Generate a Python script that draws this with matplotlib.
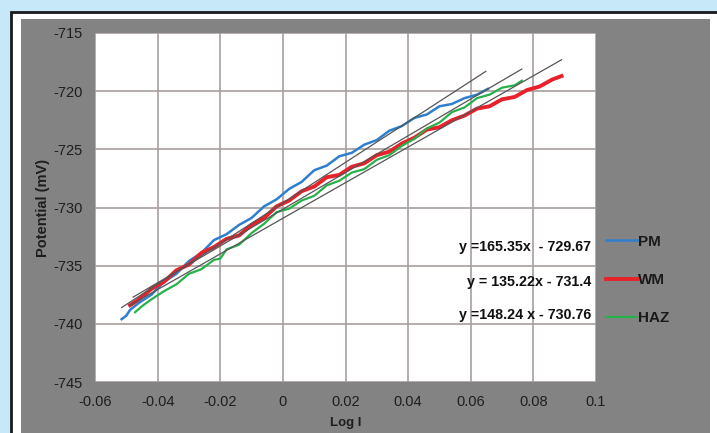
import matplotlib
matplotlib.use("Agg")
import matplotlib.pyplot as plt
from matplotlib.patches import Rectangle

plt.rcParams['font.family'] = ['Liberation Sans', 'DejaVu Sans']
plt.rcParams['axes.unicode_minus'] = False

# PM (parent metal)
pm_x = [-0.0515, -0.0500, -0.0488, -0.0460, -0.0420, -0.0380, -0.0340, -0.0300, -0.0260,
        -0.0220, -0.0180, -0.0140, -0.0100, -0.0060, -0.0020, 0.0020, 0.0060, 0.0100,
        0.0140, 0.0180, 0.0220, 0.0260, 0.0300, 0.0340, 0.0380, 0.0420, 0.0460, 0.0500,
        0.0540, 0.0580, 0.0620, 0.0655]
pm_y = [-739.6, -739.3, -738.8, -738.2, -737.5, -736.4, -735.7, -734.6, -733.9,
        -732.8, -732.3, -731.5, -730.9, -729.9, -729.3, -728.4, -727.8, -726.8,
        -726.4, -725.6, -725.3, -724.6, -724.2, -723.4, -723.0, -722.3, -722.0, -721.3,
        -721.1, -720.6, -720.3, -719.8]

# WM (weld metal)
wm_x = [-0.0488, -0.0460, -0.0420, -0.0380, -0.0340, -0.0300, -0.0260, -0.0220, -0.0180,
        -0.0140, -0.0100, -0.0060, -0.0020, 0.0020, 0.0060, 0.0100, 0.0140, 0.0180,
        0.0220, 0.0260, 0.0300, 0.0340, 0.0380, 0.0420, 0.0460, 0.0500, 0.0540, 0.0580,
        0.0620, 0.0660, 0.0700, 0.0740, 0.0780, 0.0820, 0.0860, 0.0890]
wm_y = [-738.4, -737.9, -737.0, -736.4, -735.4, -734.9, -733.9, -733.4, -732.7,
        -732.4, -731.5, -730.9, -729.9, -729.4, -728.6, -728.2, -727.4, -727.2,
        -726.5, -726.2, -725.5, -725.2, -724.5, -724.0, -723.3, -723.1, -722.5, -722.1,
        -721.5, -721.3, -720.7, -720.5, -719.9, -719.6, -719.0, -718.7]

# HAZ (heat affected zone)
haz_x = [-0.0472, -0.0446, -0.0420, -0.0380, -0.0340, -0.0300, -0.0260, -0.0220, -0.0200,
         -0.0180, -0.0140, -0.0100, -0.0060, -0.0020, 0.0020, 0.0060, 0.0100, 0.0140,
         0.0180, 0.0220, 0.0260, 0.0300, 0.0340, 0.0380, 0.0420, 0.0460, 0.0500, 0.0540,
         0.0580, 0.0620, 0.0660, 0.0700, 0.0740, 0.0763]
haz_y = [-739.0, -738.4, -737.9, -737.2, -736.6, -735.7, -735.3, -734.5, -734.4,
         -733.6, -733.2, -732.2, -731.4, -730.4, -730.1, -729.4, -729.0, -728.1,
         -727.7, -727.0, -726.7, -725.9, -725.5, -724.7, -724.1, -723.2, -722.7, -721.8,
         -721.4, -720.6, -720.3, -719.7, -719.5, -719.1]

# trend lines as drawn in the figure (start / end)
trend_x0 = [-0.0515, -0.0488, -0.0478]
trend_x1 = [0.0648, 0.0890, 0.0763]
trend_y0 = [-738.6, -738.4, -737.7]
trend_y1 = [-718.3, -717.3, -718.1]

labels = ['PM', 'WM', 'HAZ']
equations = ['y =165.35x  - 729.67', 'y = 135.22x - 731.4', 'y =148.24 x - 730.76']
eq_y = [-733.4, -736.4, -739.2]

xticks = [-0.06, -0.04, -0.02, 0, 0.02, 0.04, 0.06, 0.08, 0.1]
xticklabels = ['-0.06', '-0.04', '-0.02', '0', '0.02', '0.04', '0.06', '0.08', '0.1']
yticks = [-745, -740, -735, -730, -725, -720, -715]

fig = plt.figure(figsize=(7.17, 4.33), dpi=100)
fig.patch.set_facecolor('#c6e8f8')
W, H = 717, 433
# white frame with black border and gray chart panel
fig.patches.append(Rectangle((11 / W, -0.1), 1.0, 1 - 12 / H + 0.1, transform=fig.transFigure,
                             facecolor='white', edgecolor='#1a1a1a', linewidth=2, zorder=-2))
fig.patches.append(Rectangle((21 / W, -0.1), (710 - 21) / W, 1 - 19 / H + 0.1, transform=fig.transFigure,
                             facecolor='#838383', edgecolor='none', zorder=-1))

ax = fig.add_axes([95 / W, 1 - 382 / H, (596 - 95) / W, (382 - 33) / H])
ax.set_facecolor('white')

colors = ['#2f7fd0', '#e8212b', '#27b14a']
widths = [1.8, 2.8, 1.6]
series = [(pm_x, pm_y), (wm_x, wm_y), (haz_x, haz_y)]
for i in range(3):
    ax.plot(series[i][0], series[i][1], color=colors[i], lw=widths[i], label=labels[i], zorder=3)
for i in range(3):
    ax.plot([trend_x0[i], trend_x1[i]], [trend_y0[i], trend_y1[i]], color='#555555', lw=0.9, zorder=4)

for i in range(3):
    ax.text(0.0985, eq_y[i], equations[i], ha='right', va='center', fontsize=10.3,
            fontweight='bold', color='#111111', zorder=5)

ax.set_xlim(-0.06, 0.1)
ax.set_ylim(-745, -715)
ax.set_xticks(xticks)
ax.set_xticklabels(xticklabels)
ax.set_yticks(yticks)
ax.tick_params(length=0, labelsize=10.5, labelcolor='#1e1e1e', pad=9)
ax.grid(True, color='#a89e9c', lw=1.2)
ax.set_axisbelow(True)
for s in ax.spines.values():
    s.set_visible(False)

ax.set_xlabel('Log I', fontsize=9.5, fontweight='bold', color='#1e1e1e', labelpad=6)
ax.set_ylabel('Potential (mV)', fontsize=10.5, fontweight='bold', color='#1e1e1e', labelpad=2)

leg = fig.legend(loc='center left', bbox_to_anchor=(606 / W, 1 - 280 / H), frameon=False,
                 fontsize=11, handlelength=2.0, handletextpad=0.1, labelspacing=1.6,
                 borderpad=0, borderaxespad=0)
for t in leg.get_texts():
    t.set_fontweight('bold')
    t.set_color('#1a1a1a')

fig.savefig('out.png', dpi=100, facecolor=fig.get_facecolor())
